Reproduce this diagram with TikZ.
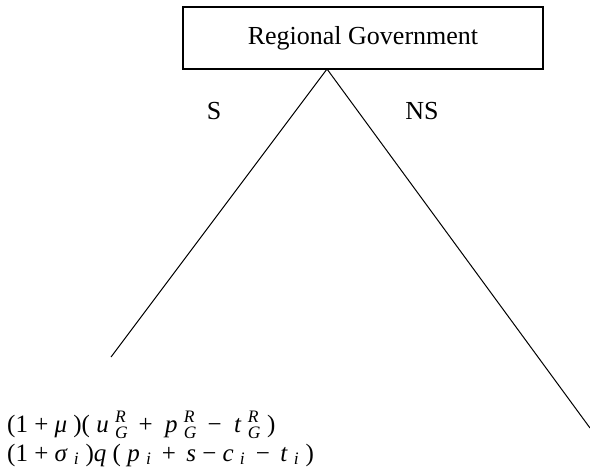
\documentclass[tikz,border=0pt]{standalone}
\usepackage{amsmath}
\usepackage{fontspec}
\setmainfont{Liberation Serif}
\usetikzlibrary{positioning,calc}

% stacked super/subscript after a letter
\newcommand{\supsub}[2]{$^{\textit{#1}}_{\textit{#2}}$}
\newcommand{\subonly}[1]{$_{\textit{#1}}$}

\begin{document}
\begin{tikzpicture}[x=1pt,y=-1pt,
  every node/.style={font=\fontsize{26}{30}\selectfont},
  govbox/.style={draw, line width=1.2pt, minimum width=360pt, minimum height=62pt, inner sep=0pt},
  branch/.style={line width=1pt},
  payoff/.style={anchor=base west, inner sep=0pt, font=\fontsize{25}{28}\selectfont}
]
\useasboundingbox (0,0) rectangle (590,472);
% ---- decision node ----
\node[govbox] (gov) at (363,38) {Regional Government};
\coordinate (apex) at (327,69);
% ---- branches ----
\coordinate (sEnd) at (111,357);
\coordinate (nsEnd) at (590,428);
\draw[branch] (apex) -- (sEnd);
\draw[branch] (apex) -- (nsEnd);
\node (s) at (214,111) {S};
\node (ns) at (422,111) {NS};
% ---- payoffs of S ----
\node[payoff] (payGov) at (7,432) {(1 + \textit{μ} )( \textit{u} \supsub{R}{G} \,+ \ \textit{p} \supsub{R}{G} \,− \ \textit{t} \supsub{R}{G} )};
\node[payoff] (payFirm) at (7,461) {(1 + \textit{σ} \subonly{i} )\textit{q} ( \textit{p} \subonly{i} \,+\, \textit{s} − \textit{c} \subonly{i} \,−\, \textit{t} \subonly{i} )};
\end{tikzpicture}
\end{document}
